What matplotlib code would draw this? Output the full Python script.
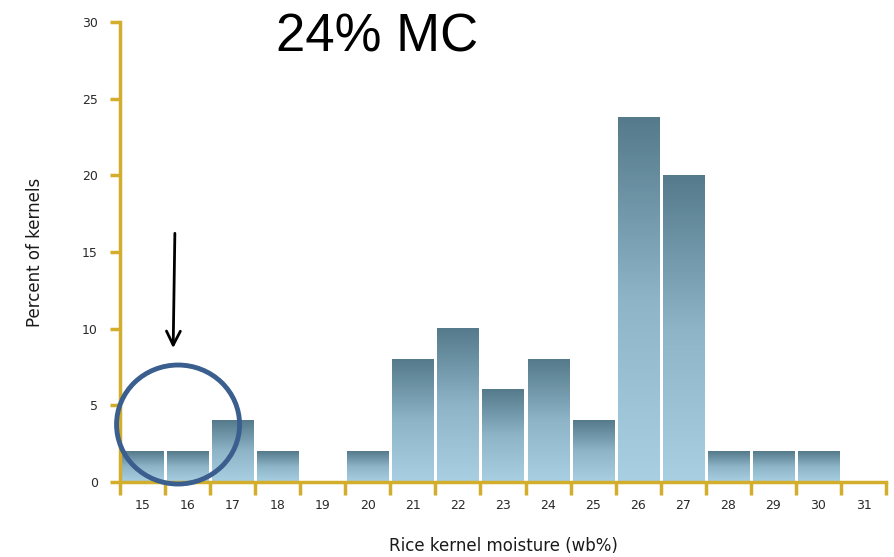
import numpy as np
import matplotlib.pyplot as plt
from matplotlib.patches import Ellipse
from matplotlib.colors import LinearSegmentedColormap

# moisture bins and percent of kernels
bins = ["15", "16", "17", "18", "19", "20", "21", "22", "23", "24",
        "25", "26", "27", "28", "29", "30", "31"]
pct = [2, 2, 4, 2, 0, 2, 8, 10, 6, 8, 4, 23.8, 20, 2, 2, 2, 0]
yticks = [0, 5, 10, 15, 20, 25, 30]

gold = "#D2AE2C"
cmap = LinearSegmentedColormap.from_list("bar", ["#A9CFE2", "#8DB4C7", "#547A8B"])

fig = plt.figure(figsize=(8.95, 5.57), dpi=100)
ax = fig.add_axes([0.134, 0.1346, 0.856, 0.826])

x = np.arange(len(bins))
w = 0.91
grad = np.linspace(0, 1, 256).reshape(-1, 1)
for xi, h in zip(x, pct):
    if h <= 0:
        continue
    ax.imshow(grad, cmap=cmap, origin="lower", aspect="auto",
              extent=(xi - w/2, xi + w/2, 0, h), zorder=2)

ax.set_xlim(-0.5, len(bins) - 0.5)
ax.set_ylim(0, 30)

ax.set_xticks(np.arange(-0.5, len(bins)), minor=False)
ax.set_xticklabels([])
ax.set_xticks(x, minor=True)
ax.set_xticklabels(bins, minor=True)
ax.tick_params(axis="x", which="major", length=9, width=2.5, color=gold)
ax.tick_params(axis="x", which="minor", length=0, pad=12, labelsize=9, labelcolor="#2a2a2a")
ax.set_yticks(yticks)
ax.tick_params(axis="y", length=7, width=2.5, color=gold, pad=9, labelsize=9, labelcolor="#2a2a2a")

for s in ["top", "right"]:
    ax.spines[s].set_visible(False)
for s in ["left", "bottom"]:
    ax.spines[s].set_color(gold)
    ax.spines[s].set_linewidth(2.5)

ax.set_xlabel("Rice kernel moisture (wb%)", fontsize=12, color="#1a1a1a", labelpad=18)
ax.set_ylabel("Percent of kernels", fontsize=12, color="#1a1a1a", labelpad=27)

# annotation: circle and arrow on the low-moisture bins
ax.add_patch(Ellipse((0.79, 3.75), 2.73, 7.76, fill=False, edgecolor="#3A5E8E",
                     linewidth=3.5, clip_on=False, zorder=5))
ax.annotate("", xy=(0.68, 8.55), xytext=(0.72, 16.4),
            arrowprops=dict(arrowstyle="->", color="black", lw=2, mutation_scale=25))

fig.text(0.421, 0.932, "24% MC", fontsize=38, family="Liberation Sans",
         ha="center", va="center")

fig.savefig("out.png", dpi=100)
